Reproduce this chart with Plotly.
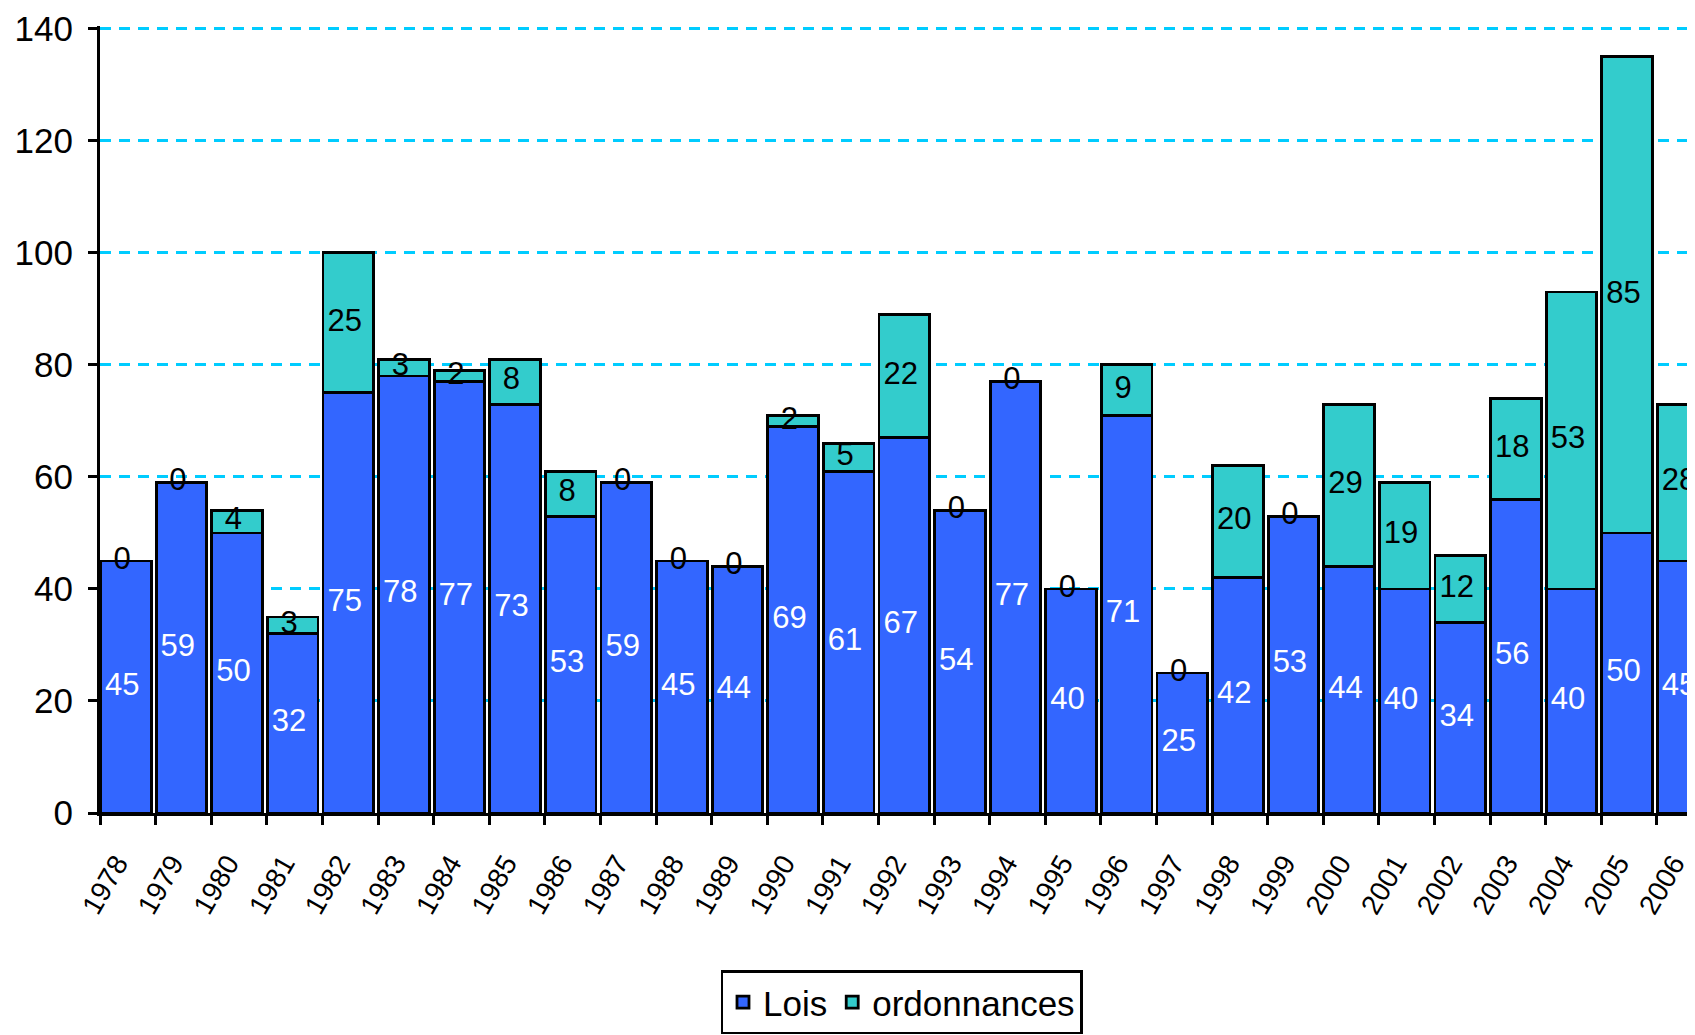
import plotly.graph_objects as go

years = ["1978", "1979", "1980", "1981", "1982", "1983", "1984", "1985", "1986", "1987",
         "1988", "1989", "1990", "1991", "1992", "1993", "1994", "1995", "1996", "1997",
         "1998", "1999", "2000", "2001", "2002", "2003", "2004", "2005", "2006"]
lois = [45, 59, 50, 32, 75, 78, 77, 73, 53, 59,
        45, 44, 69, 61, 67, 54, 77, 40, 71, 25,
        42, 53, 44, 40, 34, 56, 40, 50, 45]
ordonnances = [0, 0, 4, 3, 25, 3, 2, 8, 8, 0,
               0, 0, 2, 5, 22, 0, 0, 0, 9, 0,
               20, 0, 29, 19, 12, 18, 53, 85, 28]
y_ticks = [0, 20, 40, 60, 80, 100, 120, 140]

FONT = "Liberation Sans, Arial, sans-serif"
BLUE = "#3366FF"
TEAL = "#33CCCC"
XRANGE = [-0.5, 28.33]

# label x positions on a numeric overlay axis (category index), nudged left like the original
label_x = [i - 0.1 for i in range(len(years))]

fig = go.Figure()
fig.add_trace(go.Bar(x=years, y=lois, name="Lois", width=0.91, offset=-0.49,
                     marker=dict(color=BLUE, line=dict(color="black", width=2.8))))
fig.add_trace(go.Bar(x=years, y=ordonnances, name="ordonnances", width=0.91, offset=-0.49,
                     marker=dict(color=TEAL, line=dict(color="black", width=2.8))))

# data labels
fig.add_trace(go.Scatter(x=label_x, y=[v / 2 for v in lois], xaxis="x2", mode="text",
                         text=[str(v) for v in lois], textposition="middle center",
                         textfont=dict(family=FONT, size=31, color="white"),
                         showlegend=False, hoverinfo="skip"))
fig.add_trace(go.Scatter(x=label_x, y=[a + b / 2 for a, b in zip(lois, ordonnances)], xaxis="x2",
                         mode="text", text=[str(v) for v in ordonnances], textposition="middle center",
                         textfont=dict(family=FONT, size=31, color="black"),
                         showlegend=False, hoverinfo="skip"))

fig.update_layout(
    width=1695, height=1035,
    barmode="stack",
    plot_bgcolor="white", paper_bgcolor="white",
    margin=dict(l=92, r=0, t=18, b=230, autoexpand=False),
    font=dict(family=FONT, color="black"),
    showlegend=True,
    legend=dict(orientation="h", x=0.5, xanchor="center", y=-0.2, yanchor="top",
                bordercolor="black", borderwidth=2.5, font=dict(size=35, family=FONT),
                bgcolor="white", traceorder="normal", itemwidth=30),
    xaxis2=dict(overlaying="x", range=XRANGE, visible=False, type="linear"),
)
fig.update_xaxes(
    selector=dict(type="category"),
)
fig.layout.xaxis.update(
    type="category", range=XRANGE,
    showline=True, linecolor="black", linewidth=3,
    ticks="outside", tickson="boundaries", ticklen=9, tickwidth=2.5, tickcolor="black",
    tickangle=-60, tickfont=dict(size=28, family=FONT), ticklabelstandoff=20,
    ticklabelshift=-11,
    showgrid=False, zeroline=False,
)
fig.update_yaxes(
    range=[0, 140.5], tickvals=y_ticks,
    showline=True, linecolor="black", linewidth=3,
    ticks="outside", ticklen=9, tickwidth=3, tickcolor="black",
    tickfont=dict(size=35, family=FONT), ticklabelstandoff=8,
    showgrid=True, gridcolor="#00CCFF", gridwidth=2.5, griddash="11px,8px",
    zeroline=False,
)

fig.write_html("out.html")
